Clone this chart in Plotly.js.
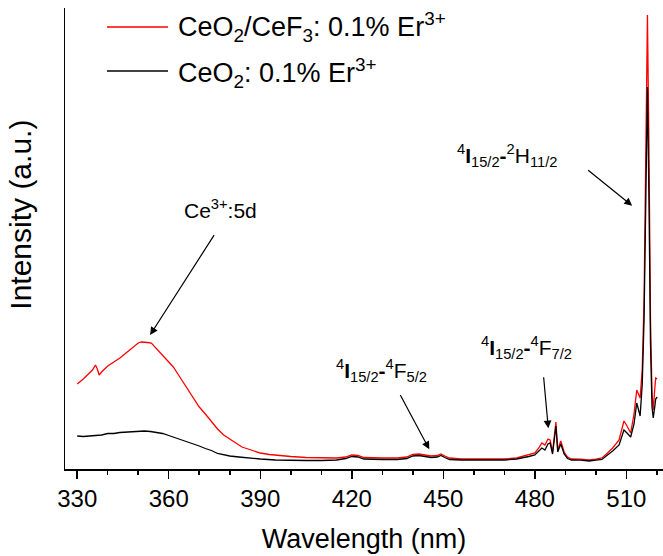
<!DOCTYPE html>
<html>
<head>
<meta charset="utf-8">
<script src="https://cdn.plot.ly/plotly-3.0.1.min.js"></script>
<style>html,body{margin:0;padding:0;background:#fff;}#chart{width:663px;height:556px;}</style>
</head>
<body>
<div id="chart"></div>
<script>
// Red series: CeO2/CeF3: 0.1% Er3+
var redWavelength = [330,332,334,335,336,336.6,337.2,338,340,342,344,346,348,350,351,352,353,354.3,355.5,357,358.5,360,361.5,363,364.5,366,368,370,372,374,376,378,380,382,384,386,388,390,393,396,400,405,410,415,418,420,422,424,430,435,438,440,442,444,446,448,449.2,450.5,452,456,460,465,470,474,476,478,480,481.3,482.3,483.3,484.3,485,485.8,486.9,487.5,488.5,489.6,490.7,492,495,497.8,500,502,503.8,505.5,507.6,508.5,509.2,510.2,511.4,512.5,513.4,514.5,515.2,515.8,516.4,516.9,517.4,517.9,518.4,518.8,519.3,519.6,520.1];
var redIntensity = [85,90,96,99,104,100,94,97,103,107,111,116,121,126,127,127,126.5,126,122,117,112,108,102,95,88,80,71,62,55,47,40,34,30,26,22,20,18,16,14.5,13.5,12.5,11.5,11,11,12,14,13.5,11.5,11,11,12,14.5,15,14,13,13.5,15,13,11,10,10,10,10,11,12.5,14,16,21,26,24,30,29,17,47,19,28,17,12,10,9.8,9,9.8,11,16,21,29,40,48,43,36,55,79,71,100,170,330,454,320,150,75,59,80,91,90];

// Black series: CeO2: 0.1% Er3+
var blackWavelength = [330,332,334,336,338,340,342,344,346,348,350,352,354,356,358,360,362,364,366,368,370,372,374,376,378,380,383,386,390,395,400,405,410,415,418,420,422,424,430,435,438,440,442,444,446,448,449.2,450.5,452,456,460,465,470,474,476,478,480,481.3,482.3,483.3,484.3,485,485.8,486.9,487.5,488.5,489.6,490.7,492,495,497.8,500,502,503.8,505.5,507.6,508.5,509.2,510.2,511.4,512.5,513.4,514.5,515.2,515.8,516.4,516.9,517.4,517.9,518.4,518.8,519.3,519.6,520.1];
var blackIntensity = [33,32.5,33,33.5,34,35.5,35.5,36.5,37,37.5,38,38,37.5,36.5,35.5,33.5,31.5,29.5,27.5,25.5,23,20.5,18.5,15.5,14,13,12,11,10,9,8.5,8.5,8.5,9,10.5,12.5,12,10,9.5,9.5,10.5,13,13.5,12.5,11.5,12,13.5,11.5,9.5,9,9,9,9,10,11,12.5,14,18,21,19,25,26,15,43,17,25,15,10.5,9,8.8,8,8.8,9.5,14,18,24,33,39,36,32,45,66,53,85,150,290,382,270,125,62,51,62,70,72];

var seriesNames = ['CeO<sub>2</sub>/CeF<sub>3</sub>: 0.1% Er<sup>3+</sup>', 'CeO<sub>2</sub>: 0.1% Er<sup>3+</sup>'];
var xTitle = 'Wavelength (nm)';
var yTitle = 'Intensity (a.u.)';

var FONT = 'Liberation Sans, Arial, sans-serif';

var traces = [
  {x: redWavelength, y: redIntensity, type: 'scatter', mode: 'lines', name: seriesNames[0],
   line: {color: '#ff0000', width: 1.3}, showlegend: false},
  {x: blackWavelength, y: blackIntensity, type: 'scatter', mode: 'lines', name: seriesNames[1],
   line: {color: '#000000', width: 1.3}, showlegend: false}
];

function arrow(x, y, ax, ay) {
  return {x: x, y: y, xref: 'x', yref: 'y', text: ' ', showarrow: true, ax: ax, ay: ay,
          arrowhead: 2, arrowsize: 1.3, arrowwidth: 1.2, arrowcolor: '#000',
          font: {family: FONT, size: 4}};
}
function label(x, y, txt) {
  return {x: x, y: y, xref: 'x', yref: 'y', text: txt, showarrow: false,
          xanchor: 'center', yanchor: 'middle', font: {family: FONT, size: 21, color: '#000'}};
}

var annotations = [
  arrow(353.9, 134, 66, -103),
  arrow(445.4, 19.7, -31, -58),
  arrow(484.4, 40.7, -5, -55),
  arrow(511.9, 263.3, -46, -37),
  label(377.1, 260, 'Ce<sup>3+</sup>:5d'),
  label(429.8, 99, '<sup>4</sup><b>I</b><sub>15/2</sub><b>-</b><sup>4</sup>F<sub>5/2</sub>'),
  label(477.3, 122, '<sup>4</sup><b>I</b><sub>15/2</sub><b>-</b><sup>4</sup>F<sub>7/2</sub>'),
  label(471.0, 314, '<sup>4</sup><b>I</b><sub>15/2</sub><b>-</b><sup>2</sup>H<sub>11/2</sub>'),
  {x: 0.1856, y: 0.958, xref: 'paper', yref: 'paper', text: seriesNames[0], showarrow: false,
   xanchor: 'left', yanchor: 'middle', font: {family: FONT, size: 27, color: '#000'}},
  {x: 0.1856, y: 0.860, xref: 'paper', yref: 'paper', text: seriesNames[1], showarrow: false,
   xanchor: 'left', yanchor: 'middle', font: {family: FONT, size: 27, color: '#000'}},
  {x: -0.075, y: 0.552, xref: 'paper', yref: 'paper', text: yTitle, showarrow: false,
   textangle: -90, xanchor: 'center', yanchor: 'middle', font: {family: FONT, size: 30, color: '#000'}}
];

var shapes = [
  {type: 'line', xref: 'paper', yref: 'paper', x0: 0.0702, x1: 0.1722, y0: 0.9588, y1: 0.9588,
   line: {color: '#ff0000', width: 1.3}},
  {type: 'line', xref: 'paper', yref: 'paper', x0: 0.0702, x1: 0.1722, y0: 0.8633, y1: 0.8633,
   line: {color: '#000000', width: 1.3}}
];

var layout = {
  width: 663, height: 556,
  margin: {l: 65, r: 0, t: 8, b: 87},
  paper_bgcolor: '#fff', plot_bgcolor: '#fff',
  font: {family: FONT, color: '#000'},
  showlegend: false,
  xaxis: {
    range: [326, 522], showgrid: false, zeroline: false,
    showline: true, linecolor: '#000', linewidth: 1.5,
    ticks: 'outside', ticklen: 8, tickwidth: 1.5, tickcolor: '#000',
    tick0: 330, dtick: 30,
    minor: {tick0: 330, dtick: 10, ticks: 'outside', ticklen: 4.5, tickwidth: 1.5, tickcolor: '#000', showgrid: false},
    tickfont: {family: FONT, size: 24, color: '#000'},
    title: {text: xTitle, font: {family: FONT, size: 27, color: '#000'}, standoff: 18}
  },
  yaxis: {
    range: [0, 461], showgrid: false, zeroline: false,
    showline: true, linecolor: '#000', linewidth: 1.5,
    ticks: '', showticklabels: false
  },
  annotations: annotations,
  shapes: shapes
};

Plotly.newPlot('chart', traces, layout, {displayModeBar: false, staticPlot: true});
</script>
</body>
</html>
